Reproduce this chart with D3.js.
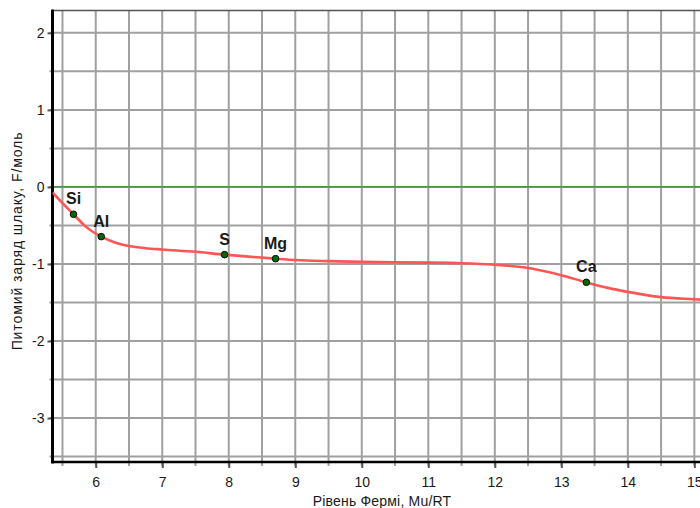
<!DOCTYPE html>
<html>
<head>
<meta charset="utf-8">
<script src="https://cdn.jsdelivr.net/npm/d3@7"></script>
<style>
  html, body { margin: 0; padding: 0; background: #fff; }
  svg { display: block; font-family: "Liberation Sans", Arial, sans-serif; }
</style>
</head>
<body>
<svg id="chart" width="700" height="508"></svg>
<script>
// Specific slag charge vs. Fermi level
const xTicks = [6, 7, 8, 9, 10, 11, 12, 13, 14, 15];
const yTicks = [-3, -2, -1, 0, 1, 2];

// charge curve samples (Mu/RT, F/mol)
const curveX = [5.35, 5.5, 5.666, 5.85, 6.083, 6.3, 6.5, 6.75, 7.0, 7.5, 7.937, 8.3, 8.704, 9.0, 9.5, 10.0, 10.5, 11.0, 11.5, 12.0, 12.4, 13.0, 13.376, 13.7, 14.0, 14.5, 15.0, 15.2];
const curveY = [-0.07, -0.21, -0.355, -0.515, -0.645, -0.723, -0.766, -0.795, -0.812, -0.842, -0.879, -0.905, -0.931, -0.948, -0.963, -0.973, -0.978, -0.982, -0.99, -1.01, -1.04, -1.145, -1.238, -1.31, -1.362, -1.43, -1.458, -1.468];

// element points on the curve
const elements = ["Si", "Al", "S", "Mg", "Ca"];
const elementX = [5.666, 6.083, 7.937, 8.704, 13.376];
const elementY = [-0.355, -0.645, -0.879, -0.931, -1.238];

const svg = d3.select("#chart");
const plotLeft = 52.5, plotTop = 10.5, plotBottom = 462;
const textFont = "'Liberation Sans', Arial, sans-serif";
const labelFont = "'Liberation Sans Narrow', 'Arial Narrow', 'Liberation Sans', Arial, sans-serif";

const x = d3.scaleLinear().domain([5.35, 15.1]).range([plotLeft, 701]);
const y = d3.scaleLinear().domain([-3.57, 2.29]).range([plotBottom, plotTop]);

// grid every 0.5
const gridX = d3.range(5.5, 15.51, 0.5);
const gridY = d3.range(-3.5, 2.01, 0.5);
const grid = svg.append("g");
grid.selectAll("line.v").data(gridX).join("line").attr("class", "v")
  .attr("x1", d => x(d)).attr("x2", d => x(d))
  .attr("y1", plotTop).attr("y2", plotBottom + 4)
  .attr("stroke", "#a0a0a0").attr("stroke-width", 2);
grid.selectAll("line.h").data(gridY).join("line").attr("class", "h")
  .attr("x1", plotLeft - 3).attr("x2", 700)
  .attr("y1", d => y(d)).attr("y2", d => y(d))
  .attr("stroke", "#a0a0a0").attr("stroke-width", 2);

// top border
svg.append("line").attr("x1", plotLeft).attr("x2", 700).attr("y1", plotTop).attr("y2", plotTop)
  .attr("stroke", "#555").attr("stroke-width", 1.5);

// zero line
svg.append("line").attr("x1", plotLeft).attr("x2", 700).attr("y1", y(0)).attr("y2", y(0))
  .attr("stroke", "#2e922e").attr("stroke-width", 1.2);

// axes with tick labels
const yAxis = d3.axisLeft(y).tickValues(yTicks).tickFormat(d => String(d)).tickSize(5).tickPadding(3);
const gy = svg.append("g").attr("transform", `translate(${plotLeft},0)`).call(yAxis);
gy.select(".domain").remove();
gy.selectAll(".tick line").attr("stroke", "#555").attr("stroke-width", 2);
gy.selectAll(".tick text").attr("font-size", 14).attr("fill", "#1a1a1a").attr("font-family", textFont);

const xAxis = d3.axisBottom(x).tickValues(xTicks).tickFormat(d => String(d)).tickSize(6).tickPadding(9);
const gx = svg.append("g").attr("transform", `translate(0,${plotBottom})`).call(xAxis);
gx.select(".domain").remove();
gx.selectAll(".tick line").attr("stroke", "#555").attr("stroke-width", 2);
gx.selectAll(".tick text").attr("font-size", 14).attr("fill", "#1a1a1a").attr("font-family", textFont);

// axis frame lines
svg.append("line").attr("x1", plotLeft).attr("x2", plotLeft).attr("y1", plotTop - 1).attr("y2", plotBottom + 1.5)
  .attr("stroke", "#000").attr("stroke-width", 3);
svg.append("line").attr("x1", plotLeft).attr("x2", 700).attr("y1", plotBottom).attr("y2", plotBottom)
  .attr("stroke", "#000").attr("stroke-width", 2.5);

// curve
const pts = curveX.map((v, i) => [v, curveY[i]]);
const line = d3.line().x(d => x(d[0])).y(d => y(d[1])).curve(d3.curveMonotoneX);
svg.append("clipPath").attr("id", "plot")
  .append("rect").attr("x", plotLeft).attr("y", plotTop).attr("width", 700 - plotLeft).attr("height", plotBottom - plotTop);
svg.append("path").datum(pts).attr("d", line).attr("clip-path", "url(#plot)")
  .attr("fill", "none").attr("stroke", "#ff5555").attr("stroke-width", 2.6);

// element markers and labels
const el = svg.append("g").selectAll("g").data(elements).join("g")
  .attr("transform", (d, i) => `translate(${x(elementX[i])},${y(elementY[i])})`);
el.append("circle").attr("r", 3.3).attr("fill", "#006a00").attr("stroke", "#0a0a0a").attr("stroke-width", 1);
el.append("text").text(d => d).attr("y", -10).attr("text-anchor", "middle")
  .attr("font-family", labelFont)
  .attr("font-size", 16).attr("font-weight", "bold").attr("fill", "#1a1a1a");

// axis titles
svg.append("text").text("Рівень Фермі, Mu/RT")
  .attr("x", 382).attr("y", 506).attr("text-anchor", "middle")
  .attr("font-size", 14).attr("letter-spacing", 0.2).attr("fill", "#1a1a1a");
svg.append("text").text("Питомий заряд шлаку, F/моль")
  .attr("transform", "translate(22,241) rotate(-90)").attr("text-anchor", "middle")
  .attr("font-size", 14).attr("letter-spacing", 0.9).attr("fill", "#1a1a1a");
</script>
</body>
</html>
